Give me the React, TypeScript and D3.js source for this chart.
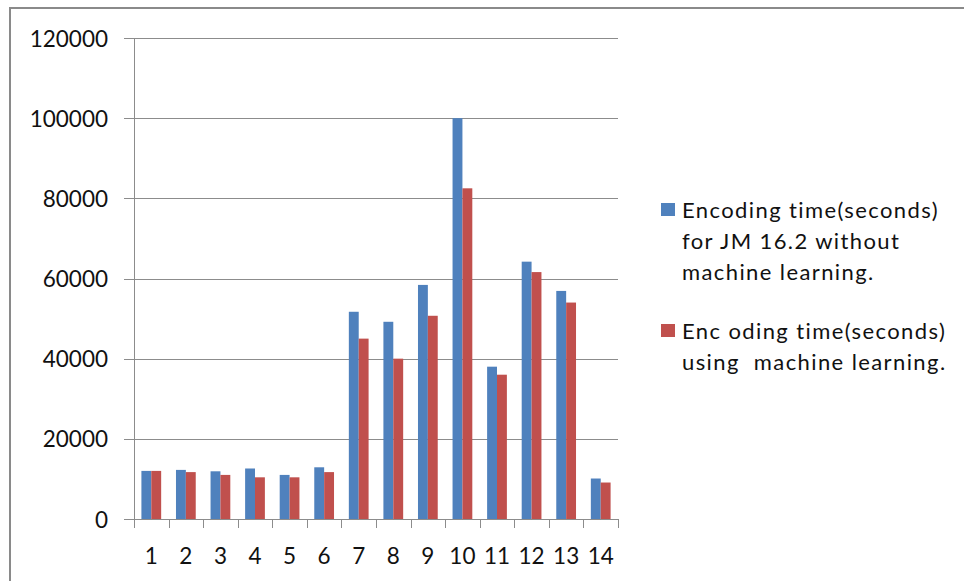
import React from "react";
import * as d3 from "d3";

const categories = ["1", "2", "3", "4", "5", "6", "7", "8", "9", "10", "11", "12", "13", "14"];
const withoutML = [12000, 12250, 11900, 12600, 11000, 12900, 51700, 49200, 58400, 100000, 38000, 64200, 56900, 10100];
const withML = [12000, 11700, 11000, 10400, 10400, 11700, 45000, 40000, 50700, 82500, 36000, 61600, 54000, 9100];
const yTicks = [0, 20000, 40000, 60000, 80000, 100000, 120000];
const seriesNames = ["without", "with"];
const seriesColors = ["#4F81BD", "#C0504D"];
const legendLines = [
  ["Encoding time(seconds)", "for JM 16.2 without", "machine learning."],
  ["Enc oding time(seconds)", "using  machine learning."],
];

const W = 964;
const H = 581;
const FONT = "Lato, 'Open Sans', sans-serif";

export default function App() {
  const plot = { left: 134, right: 618, top: 38, bottom: 519 };
  const y = d3.scaleLinear().domain([0, 120000]).range([plot.bottom, plot.top]);
  const x0 = d3.scaleBand<string>().domain(categories).range([plot.left, plot.right]).paddingInner(0).paddingOuter(0);
  const x1 = d3
    .scaleBand<string>()
    .domain(seriesNames)
    .range([0, x0.bandwidth()])
    .paddingInner(0)
    .paddingOuter(0.75);
  const values = [withoutML, withML];
  const axisColor = "#8c8c8c";
  const textColor = "#111";

  return (
    <svg
      width={W}
      height={H}
      style={{ position: "absolute", left: 0, top: 0, background: "#fff" }}
      fontFamily={FONT}
    >
      {/* chart frame */}
      <rect x={10} y={8} width={W + 20} height={H + 20} fill="#fff" stroke="#8a8a8a" strokeWidth={2} />

      {/* horizontal gridlines with tick stubs */}
      {yTicks.map((t) => (
        <g key={t}>
          <line
            x1={plot.left - 10}
            x2={plot.right}
            y1={Math.round(y(t)) + 0.5}
            y2={Math.round(y(t)) + 0.5}
            stroke={axisColor}
            strokeWidth={1}
          />
          <text
            x={108}
            y={y(t)}
            textAnchor="end"
            dominantBaseline="central"
            fontSize={22.5}
            fill={textColor}
          >
            {t}
          </text>
        </g>
      ))}

      {/* bars */}
      {categories.map((c, i) => (
        <g key={c} transform={`translate(${x0(c)},0)`}>
          {seriesNames.map((s, j) => (
            <rect
              key={s}
              x={x1(s)}
              y={y(values[j][i])}
              width={x1.bandwidth()}
              height={y(0) - y(values[j][i])}
              fill={seriesColors[j]}
            />
          ))}
        </g>
      ))}

      {/* y axis line */}
      <line x1={plot.left + 0.5} x2={plot.left + 0.5} y1={plot.top} y2={plot.bottom} stroke={axisColor} />

      {/* x axis tick marks at category boundaries */}
      {categories.concat(["end"]).map((c, i) => {
        const xx = Math.round(plot.left + i * x0.step()) + 0.5;
        return <line key={c + i} x1={xx} x2={xx} y1={plot.bottom} y2={plot.bottom + 9} stroke={axisColor} />;
      })}

      {/* category labels */}
      {categories.map((c) => (
        <text
          key={c}
          x={(x0(c) ?? 0) + x0.bandwidth() / 2}
          y={555}
          textAnchor="middle"
          dominantBaseline="central"
          fontSize={22.5}
          fill={textColor}
        >
          {c}
        </text>
      ))}

      {/* legend */}
      {legendLines.map((lines, j) => {
        const top = j === 0 ? 209 : 330;
        return (
          <g key={j}>
            <rect x={661} y={top - 6} width={14} height={13} fill={seriesColors[j]} />
            {lines.map((ln, k) => (
              <text
                key={k}
                x={682}
                y={top + k * 31}
                dominantBaseline="central"
                fontSize={22}
                letterSpacing={1.4}
                fill={textColor}
                style={{ whiteSpace: "pre" }}
              >
                {ln}
              </text>
            ))}
          </g>
        );
      })}
    </svg>
  );
}
